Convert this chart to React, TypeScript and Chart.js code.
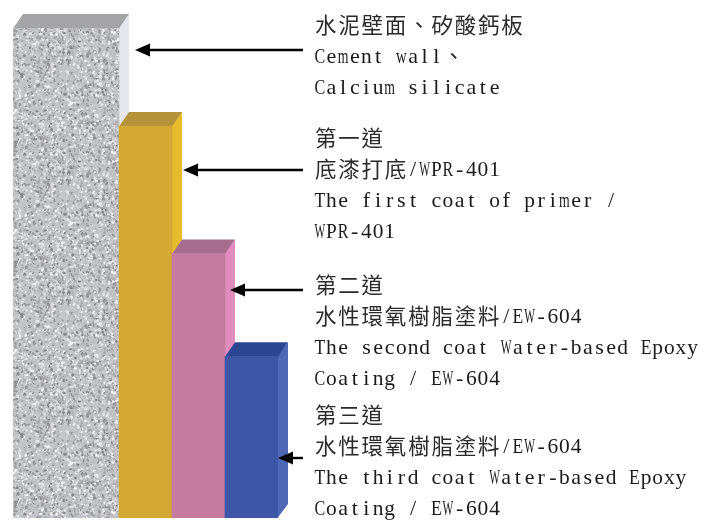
import React, { useEffect, useRef } from "react";
import { Chart, registerables } from "chart.js";

Chart.register(...registerables);

// ---- data ----
const layerNames = ["Cement wall / Calcium silicate", "First coat WPR-401", "Second coat EW-604", "Third coat EW-604"];
const layerHeights = [100, 80, 54, 33];
const captionCement = ["水泥壁面、矽酸鈣板", "Cement wall、", "Calcium silicate"];
const captionFirst = ["第一道", "底漆打底/WPR-401", "The first coat of primer /", "WPR-401"];
const captionSecond = ["第二道", "水性環氧樹脂塗料/EW-604", "The second coat Water-based Epoxy", "Coating / EW-604"];
const captionThird = ["第三道", "水性環氧樹脂塗料/EW-604", "The third coat Water-based Epoxy", "Coating / EW-604"];
const captions = [captionCement, captionFirst, captionSecond, captionThird];

// ---- layout & style ----
const STYLE = {
  slots: [2, 1, 1, 1],
  front: ["pattern", "#D3A934", "#C57BA0", "#3E56A7"],
  side: ["#E5E7EC", "#E7BC2C", "#E08CBF", "#4E68B7"],
  top: ["#A4A4A7", "#B39239", "#A76B8D", "#2E4594"],
  dx: 10,
  dy: 14,
  textX: 314,
  groupY: [25, 138, 285, 415],
  lineGap: 31.2,
  arrowY: [50, 170, 290, 458],
  arrowTip: [135, 183, 230, 278],
  arrowTail: 303,
  latinCell: 11.65,
  cjkCell: 23.3,
};

function isWide(ch: string) {
  return ch.charCodeAt(0) >= 0x2e80;
}

function drawMixed(ctx: CanvasRenderingContext2D, text: string, x: number, y: number) {
  let cx = x;
  ctx.textBaseline = "middle";
  ctx.textAlign = "center";
  for (const ch of Array.from(text)) {
    const wide = isWide(ch);
    const cell = wide ? STYLE.cjkCell : STYLE.latinCell;
    if (ch !== " ") {
      ctx.font = wide ? "21.5px 'Noto Sans CJK TC'" : "22px 'Liberation Serif'";
      ctx.fillStyle = wide ? "#2a2a2a" : "#1a1a1a";
      const w = ctx.measureText(ch).width;
      const maxW = cell * 0.92;
      const sx = w > maxW ? maxW / w : 1;
      ctx.save();
      ctx.translate(cx + cell / 2, wide ? y : y + 1);
      ctx.scale(sx, 1);
      ctx.fillText(ch, 0, 0);
      ctx.restore();
    }
    cx += cell;
  }
}

function makeGranite(): CanvasPattern | string {
  const c = document.createElement("canvas");
  c.width = 120;
  c.height = 120;
  const g = c.getContext("2d");
  if (!g) return "#C8C8CC";
  g.fillStyle = "#C2C3C7";
  g.fillRect(0, 0, 120, 120);
  let s = 12345;
  const rnd = () => {
    s = (s * 1103515245 + 12345) & 0x7fffffff;
    return s / 0x7fffffff;
  };
  for (let i = 0; i < 2800; i++) {
    const v = Math.round(125 + rnd() * 130);
    g.fillStyle = `rgb(${v},${v},${v + 3})`;
    g.beginPath();
    g.ellipse(rnd() * 120, rnd() * 120, 0.6 + rnd() * 1.3, 0.5 + rnd() * 0.9, rnd() * 3.14, 0, Math.PI * 2);
    g.fill();
  }
  const p = g.createPattern(c, "repeat");
  return p || "#C8C8CC";
}

const depthPlugin = {
  id: "depth3d",
  beforeDatasetsDraw(chart: any) {
    const ctx: CanvasRenderingContext2D = chart.ctx;
    const meta = chart.getDatasetMeta(0);
    let slot = 0;
    layerHeights.forEach((_, i) => {
      const els = meta.data.slice(slot, slot + STYLE.slots[i]);
      slot += STYLE.slots[i];
      const a = els[0].getProps(["x", "y", "base", "width"], true);
      const b = els[els.length - 1].getProps(["x", "y", "base", "width"], true);
      const left = a.x - a.width / 2;
      const right = b.x + b.width / 2;
      const top = a.y;
      const base = a.base;
      ctx.save();
      ctx.fillStyle = STYLE.side[i];
      ctx.beginPath();
      ctx.moveTo(right - 0.5, top);
      ctx.lineTo(right + STYLE.dx, top - STYLE.dy);
      ctx.lineTo(right + STYLE.dx, base - STYLE.dy);
      ctx.lineTo(right - 0.5, base);
      ctx.closePath();
      ctx.fill();
      ctx.fillStyle = STYLE.top[i];
      ctx.beginPath();
      ctx.moveTo(left, top + 0.5);
      ctx.lineTo(left + STYLE.dx, top - STYLE.dy);
      ctx.lineTo(right + STYLE.dx, top - STYLE.dy);
      ctx.lineTo(right, top + 0.5);
      ctx.closePath();
      ctx.fill();
      ctx.restore();
    });
  },
  afterDraw(chart: any) {
    const ctx: CanvasRenderingContext2D = chart.ctx;
    ctx.save();
    captions.forEach((lines, g) => {
      lines.forEach((line, k) => {
        drawMixed(ctx, line, STYLE.textX, STYLE.groupY[g] + k * STYLE.lineGap);
      });
    });
    ctx.strokeStyle = "#000";
    ctx.fillStyle = "#000";
    ctx.lineWidth = 2.4;
    STYLE.arrowY.forEach((y, i) => {
      const tip = STYLE.arrowTip[i];
      ctx.beginPath();
      ctx.moveTo(tip + 12, y);
      ctx.lineTo(STYLE.arrowTail, y);
      ctx.stroke();
      ctx.beginPath();
      ctx.moveTo(tip, y);
      ctx.lineTo(tip + 15, y - 6.5);
      ctx.lineTo(tip + 15, y + 6.5);
      ctx.closePath();
      ctx.fill();
    });
    ctx.restore();
  },
};

export default function App() {
  const ref = useRef<HTMLCanvasElement>(null);
  useEffect(() => {
    if (!ref.current) return;
    const granite = makeGranite();
    const labels: string[] = [];
    const values: number[] = [];
    const colors: any[] = [];
    layerNames.forEach((name, i) => {
      for (let k = 0; k < STYLE.slots[i]; k++) {
        labels.push(name);
        values.push(layerHeights[i]);
        colors.push(STYLE.front[i] === "pattern" ? granite : STYLE.front[i]);
      }
    });
    const chart = new Chart(ref.current, {
      type: "bar",
      data: {
        labels,
        datasets: [
          {
            data: values,
            backgroundColor: colors,
            borderWidth: 0,
            categoryPercentage: 1,
            barPercentage: 1,
          },
        ],
      },
      options: {
        animation: false,
        responsive: false,
        layout: { padding: { left: 13, right: 436, top: 28, bottom: 6 } },
        plugins: { legend: { display: false }, tooltip: { enabled: false }, title: { display: false } },
        scales: {
          x: { display: false, offset: true },
          y: { display: false, min: 0, max: 100 },
        },
      },
      plugins: [depthPlugin],
    });
    return () => chart.destroy();
  }, []);
  return (
    <div style={{ position: "fixed", left: 0, top: 0, width: 714, height: 524, background: "#fff" }}>
      <canvas ref={ref} width={714} height={524} style={{ display: "block" }} />
    </div>
  );
}
